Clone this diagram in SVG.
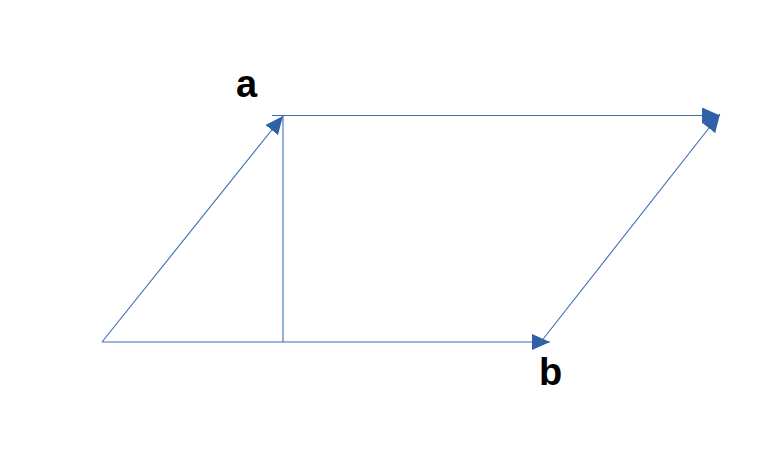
<svg xmlns="http://www.w3.org/2000/svg" width="779" height="460" viewBox="0 0 779 460">
<style>
.ln{stroke:#3d6bb3;stroke-width:1.1;fill:none}
.lbl{font-family:"Liberation Sans",Arial,sans-serif;font-weight:bold;font-size:38px;fill:#000}
</style>
<defs>
<marker id="ah" markerUnits="userSpaceOnUse" markerWidth="19" markerHeight="17" refX="18" refY="8" orient="auto" viewBox="0 0 19 17">
<path d="M0,0 L18,8 L0,16 z" fill="#3060a8"/>
</marker>
</defs>
<rect width="779" height="460" fill="#fff"/>
<g id="connectors">
<line class="ln" x1="102" y1="342" x2="283" y2="116" marker-end="url(#ah)"/>
<line class="ln" x1="272" y1="115.5" x2="720" y2="115.5" marker-end="url(#ah)"/>
<line class="ln" x1="283" y1="116" x2="283" y2="342"/>
<line class="ln" x1="102" y1="342" x2="550" y2="342" marker-end="url(#ah)"/>
<line class="ln" x1="540" y1="343" x2="720" y2="114" marker-end="url(#ah)"/>
</g>
<g id="label-a"><text class="lbl" x="236" y="97">a</text></g>
<g id="label-b"><text class="lbl" x="539" y="385">b</text></g>
</svg>
